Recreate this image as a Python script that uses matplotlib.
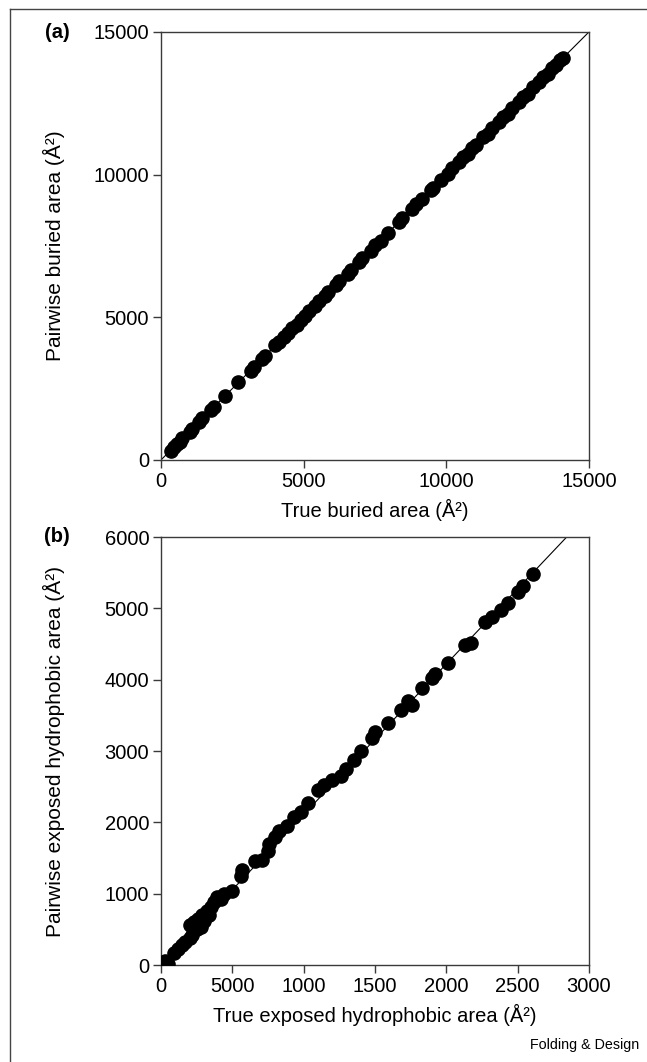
import matplotlib
matplotlib.use("Agg")
import matplotlib.pyplot as plt
from matplotlib.lines import Line2D

plt.rcParams['font.family'] = ['Liberation Sans', 'DejaVu Sans']

# panel (a): true vs pairwise buried area
buried_true = [350, 450, 550, 650, 750, 1000, 1080, 1350, 1450, 1750, 1850, 2250,
               2700, 3150, 3250, 3550, 3650, 4000, 4150, 4300, 4450, 4600, 4750,
               4900, 5050, 5200, 5400, 5550, 5750, 5850, 6150, 6250, 6550, 6650,
               6950, 7050, 7350, 7500, 7700, 7950, 8350, 8450, 8800, 8950, 9150,
               9450, 9550, 9800, 10050, 10200, 10450, 10600, 10750, 10900, 11050,
               11300, 11450, 11600, 11850, 12000, 12150, 12300, 12550, 12700,
               12850, 13050, 13250, 13400, 13550, 13700, 13850, 14000, 14100]
buried_pair = [330, 470, 560, 630, 760, 980, 1100, 1330, 1470, 1740, 1860, 2230,
               2720, 3130, 3270, 3530, 3660, 4020, 4130, 4320, 4440, 4620, 4730,
               4920, 5030, 5220, 5380, 5570, 5730, 5870, 6130, 6270, 6530, 6670,
               6930, 7070, 7330, 7520, 7680, 7970, 8330, 8470, 8780, 8970, 9130,
               9470, 9530, 9820, 10030, 10220, 10430, 10620, 10730, 10920, 11030,
               11320, 11430, 11620, 11830, 12020, 12130, 12320, 12530, 12720,
               12830, 13070, 13230, 13420, 13530, 13720, 13830, 14020, 14080]

# panel (b): true vs pairwise exposed hydrophobic area
hyd_true = [10, 30, 50, 90, 120, 150, 170, 200, 220, 200, 230, 250, 260, 280, 290,
            300, 320, 340, 350, 370, 390, 420, 440, 500, 560, 570, 660, 710, 750,
            760, 800, 830, 880, 930, 980, 1030, 1100, 1140, 1200, 1260, 1300, 1350,
            1400, 1480, 1500, 1590, 1680, 1730, 1760, 1830, 1900, 1920, 2010, 2130,
            2170, 2270, 2320, 2380, 2430, 2500, 2540, 2610]
hyd_pair = [30, 50, 20, 170, 230, 280, 330, 380, 420, 560, 600, 500, 650, 540, 700,
            620, 760, 700, 820, 880, 950, 920, 1000, 1040, 1250, 1330, 1460, 1470,
            1600, 1700, 1800, 1880, 1950, 2070, 2150, 2270, 2450, 2520, 2600, 2650,
            2750, 2880, 3000, 3180, 3270, 3400, 3570, 3700, 3640, 3880, 4030, 4080,
            4230, 4480, 4520, 4810, 4880, 4980, 5070, 5230, 5320, 5480]
hyd_slope = 2.11

ticks_a = [0, 5000, 10000, 15000]
ticks_bx = [0, 500, 1000, 1500, 2000, 2500, 3000]
ticks_bx_labels = ['0', '5000', '1000', '1500', '2000', '2500', '3000']
ticks_by = [0, 1000, 2000, 3000, 4000, 5000, 6000]

fs = 14.5

fig = plt.figure(figsize=(6.47, 10.62), dpi=100)
ax1 = fig.add_axes([0.2488, 0.5669, 0.6615, 0.4030])
ax2 = fig.add_axes([0.2488, 0.0913, 0.6615, 0.4030])

spine_col = '#3a3a3a'
for ax in (ax1, ax2):
    for s in ax.spines.values():
        s.set_color(spine_col)
        s.set_linewidth(1.0)
    ax.tick_params(direction='out', length=5.5, width=1.0, color=spine_col,
                   labelsize=fs, pad=3)

# (a)
ax1.plot([0, 15000], [0, 15000], color='black', lw=0.8, zorder=2)
ax1.plot(buried_true, buried_pair, 'o', color='black', ms=9.5, zorder=3)
ax1.set_xlim(0, 15000)
ax1.set_ylim(0, 15000)
ax1.set_xticks(ticks_a)
ax1.set_yticks(ticks_a)
ax1.set_xlabel('True buried area (Å²)', fontsize=fs)
ax1.set_ylabel('Pairwise buried area (Å²)', fontsize=15)
ax1.xaxis.set_label_coords(0.5, -0.092)
ax1.yaxis.set_label_coords(-0.225, 0.5)

# (b)
ax2.plot([0, 3000], [0, 3000 * hyd_slope], color='black', lw=0.8, zorder=2)
ax2.plot(hyd_true, hyd_pair, 'o', color='black', ms=9.5, zorder=3)
ax2.set_xlim(0, 3000)
ax2.set_ylim(0, 6000)
ax2.set_xticks(ticks_bx)
ax2.set_xticklabels(ticks_bx_labels)
ax2.set_yticks(ticks_by)
ax2.set_xlabel('True exposed hydrophobic area (Å²)', fontsize=fs)
ax2.set_ylabel('Pairwise exposed hydrophobic area (Å²)', fontsize=15)
ax2.xaxis.set_label_coords(0.5, -0.090)
ax2.yaxis.set_label_coords(-0.225, 0.5)

# panel letters
fig.text(57 / 647, 1 - 33 / 1062, '(a)', fontsize=fs, fontweight='bold',
         ha='center', va='center')
fig.text(57 / 647, 1 - 537 / 1062, '(b)', fontsize=fs, fontweight='bold',
         ha='center', va='center')
fig.text(639 / 647, 1 - 1045 / 1062, 'Folding & Design', fontsize=10.3,
         ha='right', va='center')

# outer frame (left + top)
fig.add_artist(Line2D([10 / 647, 10 / 647], [0, 1 - 9 / 1062], color='#444444',
                      lw=1.0, transform=fig.transFigure))
fig.add_artist(Line2D([10 / 647, 1], [1 - 9 / 1062, 1 - 9 / 1062], color='#444444',
                      lw=1.0, transform=fig.transFigure))

fig.savefig('out.png', dpi=100)
